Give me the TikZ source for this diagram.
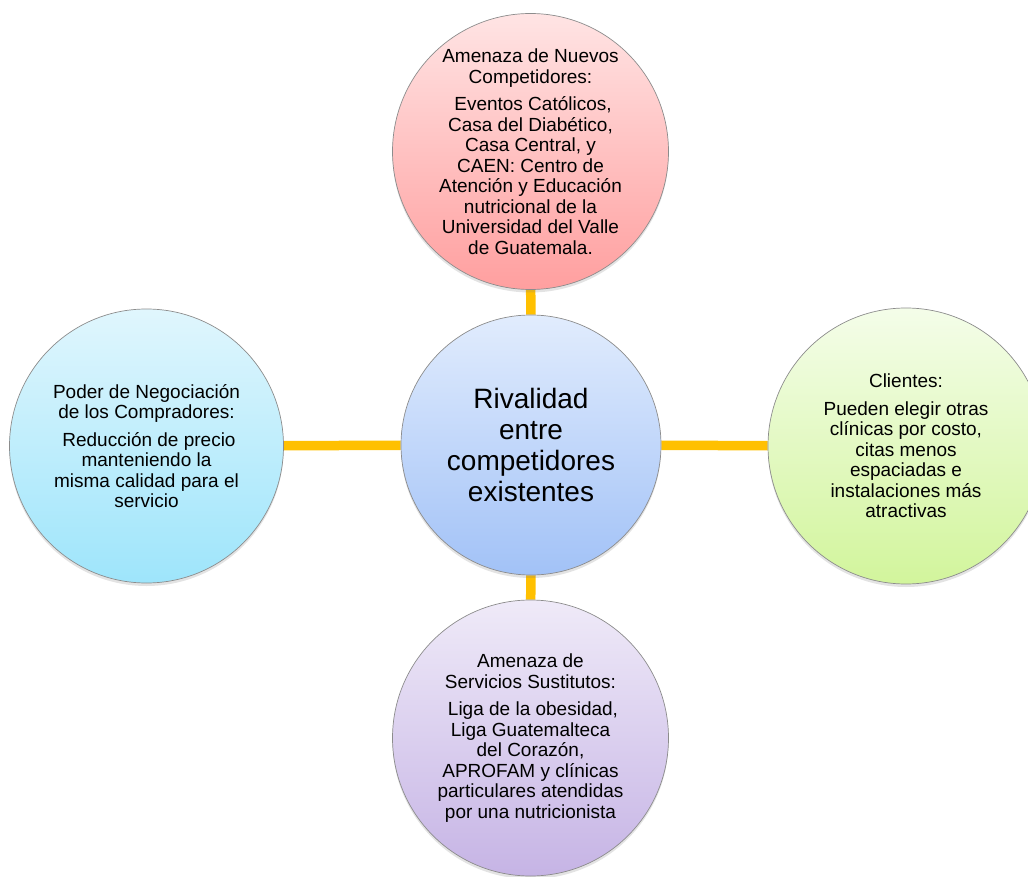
\documentclass[tikz,border=0pt]{standalone}
\usepackage{fontspec}
\setmainfont{Liberation Sans}
\usetikzlibrary{shadows,backgrounds}
\definecolor{linkc}{HTML}{FFC000}
\definecolor{redT}{HTML}{FFE4E4}
\definecolor{redB}{HTML}{FF9F9F}
\definecolor{bluT}{HTML}{E1ECFD}
\definecolor{bluB}{HTML}{A2C2F7}
\definecolor{cyaT}{HTML}{E0F6FD}
\definecolor{cyaB}{HTML}{9EE5FB}
\definecolor{grnT}{HTML}{F4FDE9}
\definecolor{grnB}{HTML}{D2F59C}
\definecolor{purT}{HTML}{EFEAF8}
\definecolor{purB}{HTML}{C6B4E5}
\begin{document}
\begin{tikzpicture}[x=1pt,y=-1pt,
  bubble/.style={circle, draw=black!45, line width=0.7pt, inner sep=0pt, align=center,
    font=\fontsize{19}{20.5}\selectfont,
    drop shadow={opacity=0.22, shadow xshift=0pt, shadow yshift=-3pt}},
  link/.style={draw=linkc, line width=9.5pt}]
\useasboundingbox (0,0) rectangle (1028,877);
\clip (0,0) rectangle (1028,877);
\node[bubble, minimum size=276pt, top color=redT, bottom color=redB] (top) at (530.5,151.5)
  {Amenaza de Nuevos\\Competidores:\\[7pt]\hspace*{5pt}Eventos Católicos,\\Casa del Diabético,\\Casa Central, y\\CAEN: Centro de\\Atención y Educación\\nutricional de la\\Universidad del Valle\\de Guatemala.};
\node[bubble, minimum size=260pt, top color=bluT, bottom color=bluB,
  font=\fontsize{28}{31}\selectfont] (center) at (531,445)
  {Rivalidad\\entre\\competidores\\existentes};
\node[bubble, minimum size=274pt, top color=cyaT, bottom color=cyaB] (left) at (146.5,446)
  {Poder de Negociación\\de los Compradores:\\[7pt]\hspace*{5pt}Reducción de precio\\manteniendo la\\misma calidad para el\\servicio};
\node[bubble, minimum size=276pt, top color=grnT, bottom color=grnB] (right) at (906,446)
  {Clientes:\\[7pt]Pueden elegir otras\\clínicas por costo,\\citas menos\\espaciadas e\\instalaciones más\\atractivas};
\node[bubble, minimum size=276pt, top color=purT, bottom color=purB] (bottom) at (530.5,738)
  {Amenaza de\\Servicios Sustitutos:\\[7pt]\hspace*{5pt}Liga de la obesidad,\\Liga Guatemalteca\\del Corazón,\\APROFAM y clínicas\\particulares atendidas\\por una nutricionista};
\begin{scope}[on background layer]
  \draw[link] (top) -- (center);
  \draw[link] (left) -- (center);
  \draw[link] (center) -- (right);
  \draw[link] (center) -- (bottom);
\end{scope}
\end{tikzpicture}
\end{document}
